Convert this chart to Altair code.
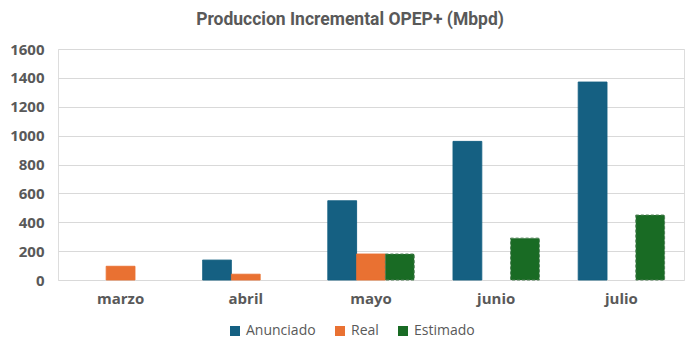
import altair as alt
import pandas as pd

meses = ["marzo", "abril", "mayo", "junio", "julio"]
series = ["Anunciado", "Real", "Estimado"]
anunciado = [None, 138, 549, 960, 1371]
real = [95, 40, 180, None, None]
estimado = [None, None, 180, 290, 450]
colores = ["#156082", "#E97132", "#196B24"]
bordes = ["#156082", "#E97132", "#4E7F55"]
y_ticks = [0, 200, 400, 600, 800, 1000, 1200, 1400, 1600]

rows = []
for s, vals in zip(series, [anunciado, real, estimado]):
    for m, v in zip(meses, vals):
        if v is not None:
            rows.append({"mes": m, "serie": s, "valor": v})
df = pd.DataFrame(rows)

gray = "#595959"
font = "Open Sans"

chart = alt.Chart(df).mark_bar(strokeWidth=1).encode(
    x=alt.X("mes:N", sort=meses, title=None,
            scale=alt.Scale(domain=meses, paddingInner=0.31, paddingOuter=0.155),
            axis=alt.Axis(labelAngle=0, labelFontWeight="bold", labelFontSize=15,
                          labelColor=gray, labelFont=font, labelPadding=11,
                          domain=False, ticks=False)),
    xOffset=alt.XOffset("serie:N", sort=series, scale=alt.Scale(domain=series, paddingInner=0, paddingOuter=0)),
    y=alt.Y("valor:Q", title=None,
            scale=alt.Scale(domain=[0, 1600], nice=False),
            axis=alt.Axis(values=y_ticks, format="d", labelFontWeight="bold", labelFontSize=15,
                          labelColor=gray, labelFont=font, labelPadding=14,
                          domain=False, ticks=False, gridColor="#D9D9D9", gridWidth=1)),
    color=alt.Color("serie:N", sort=series,
                    scale=alt.Scale(domain=series, range=colores),
                    legend=alt.Legend(title=None, orient="none", direction="horizontal",
                                      legendX=170, legendY=275, symbolType="square",
                                      symbolSize=100, symbolStrokeWidth=0,
                                      labelFontSize=14, labelFont=font, labelColor=gray,
                                      labelOffset=4, columnPadding=17)),
    stroke=alt.Stroke("serie:N", sort=series,
                      scale=alt.Scale(domain=series, range=bordes), legend=None),
    strokeDash=alt.StrokeDash("serie:N", sort=series,
                              scale=alt.Scale(domain=series, range=[[1, 0], [1, 0], [3, 2]]),
                              legend=None),
).properties(
    width=626, height=231,
    title=alt.TitleParams("Produccion Incremental OPEP+ (Mbpd)",
                          font="Roboto", fontSize=17.5, fontWeight="bold",
                          color=gray, anchor="middle", dx=-21, offset=14),
    autosize=alt.AutoSizeParams(type="none"),
    padding={"left": 58, "top": 49, "right": 14, "bottom": 74},
).configure_view(stroke=None).configure(background="white")

chart.save("out.html", embed_options={"renderer": "svg", "actions": False})
